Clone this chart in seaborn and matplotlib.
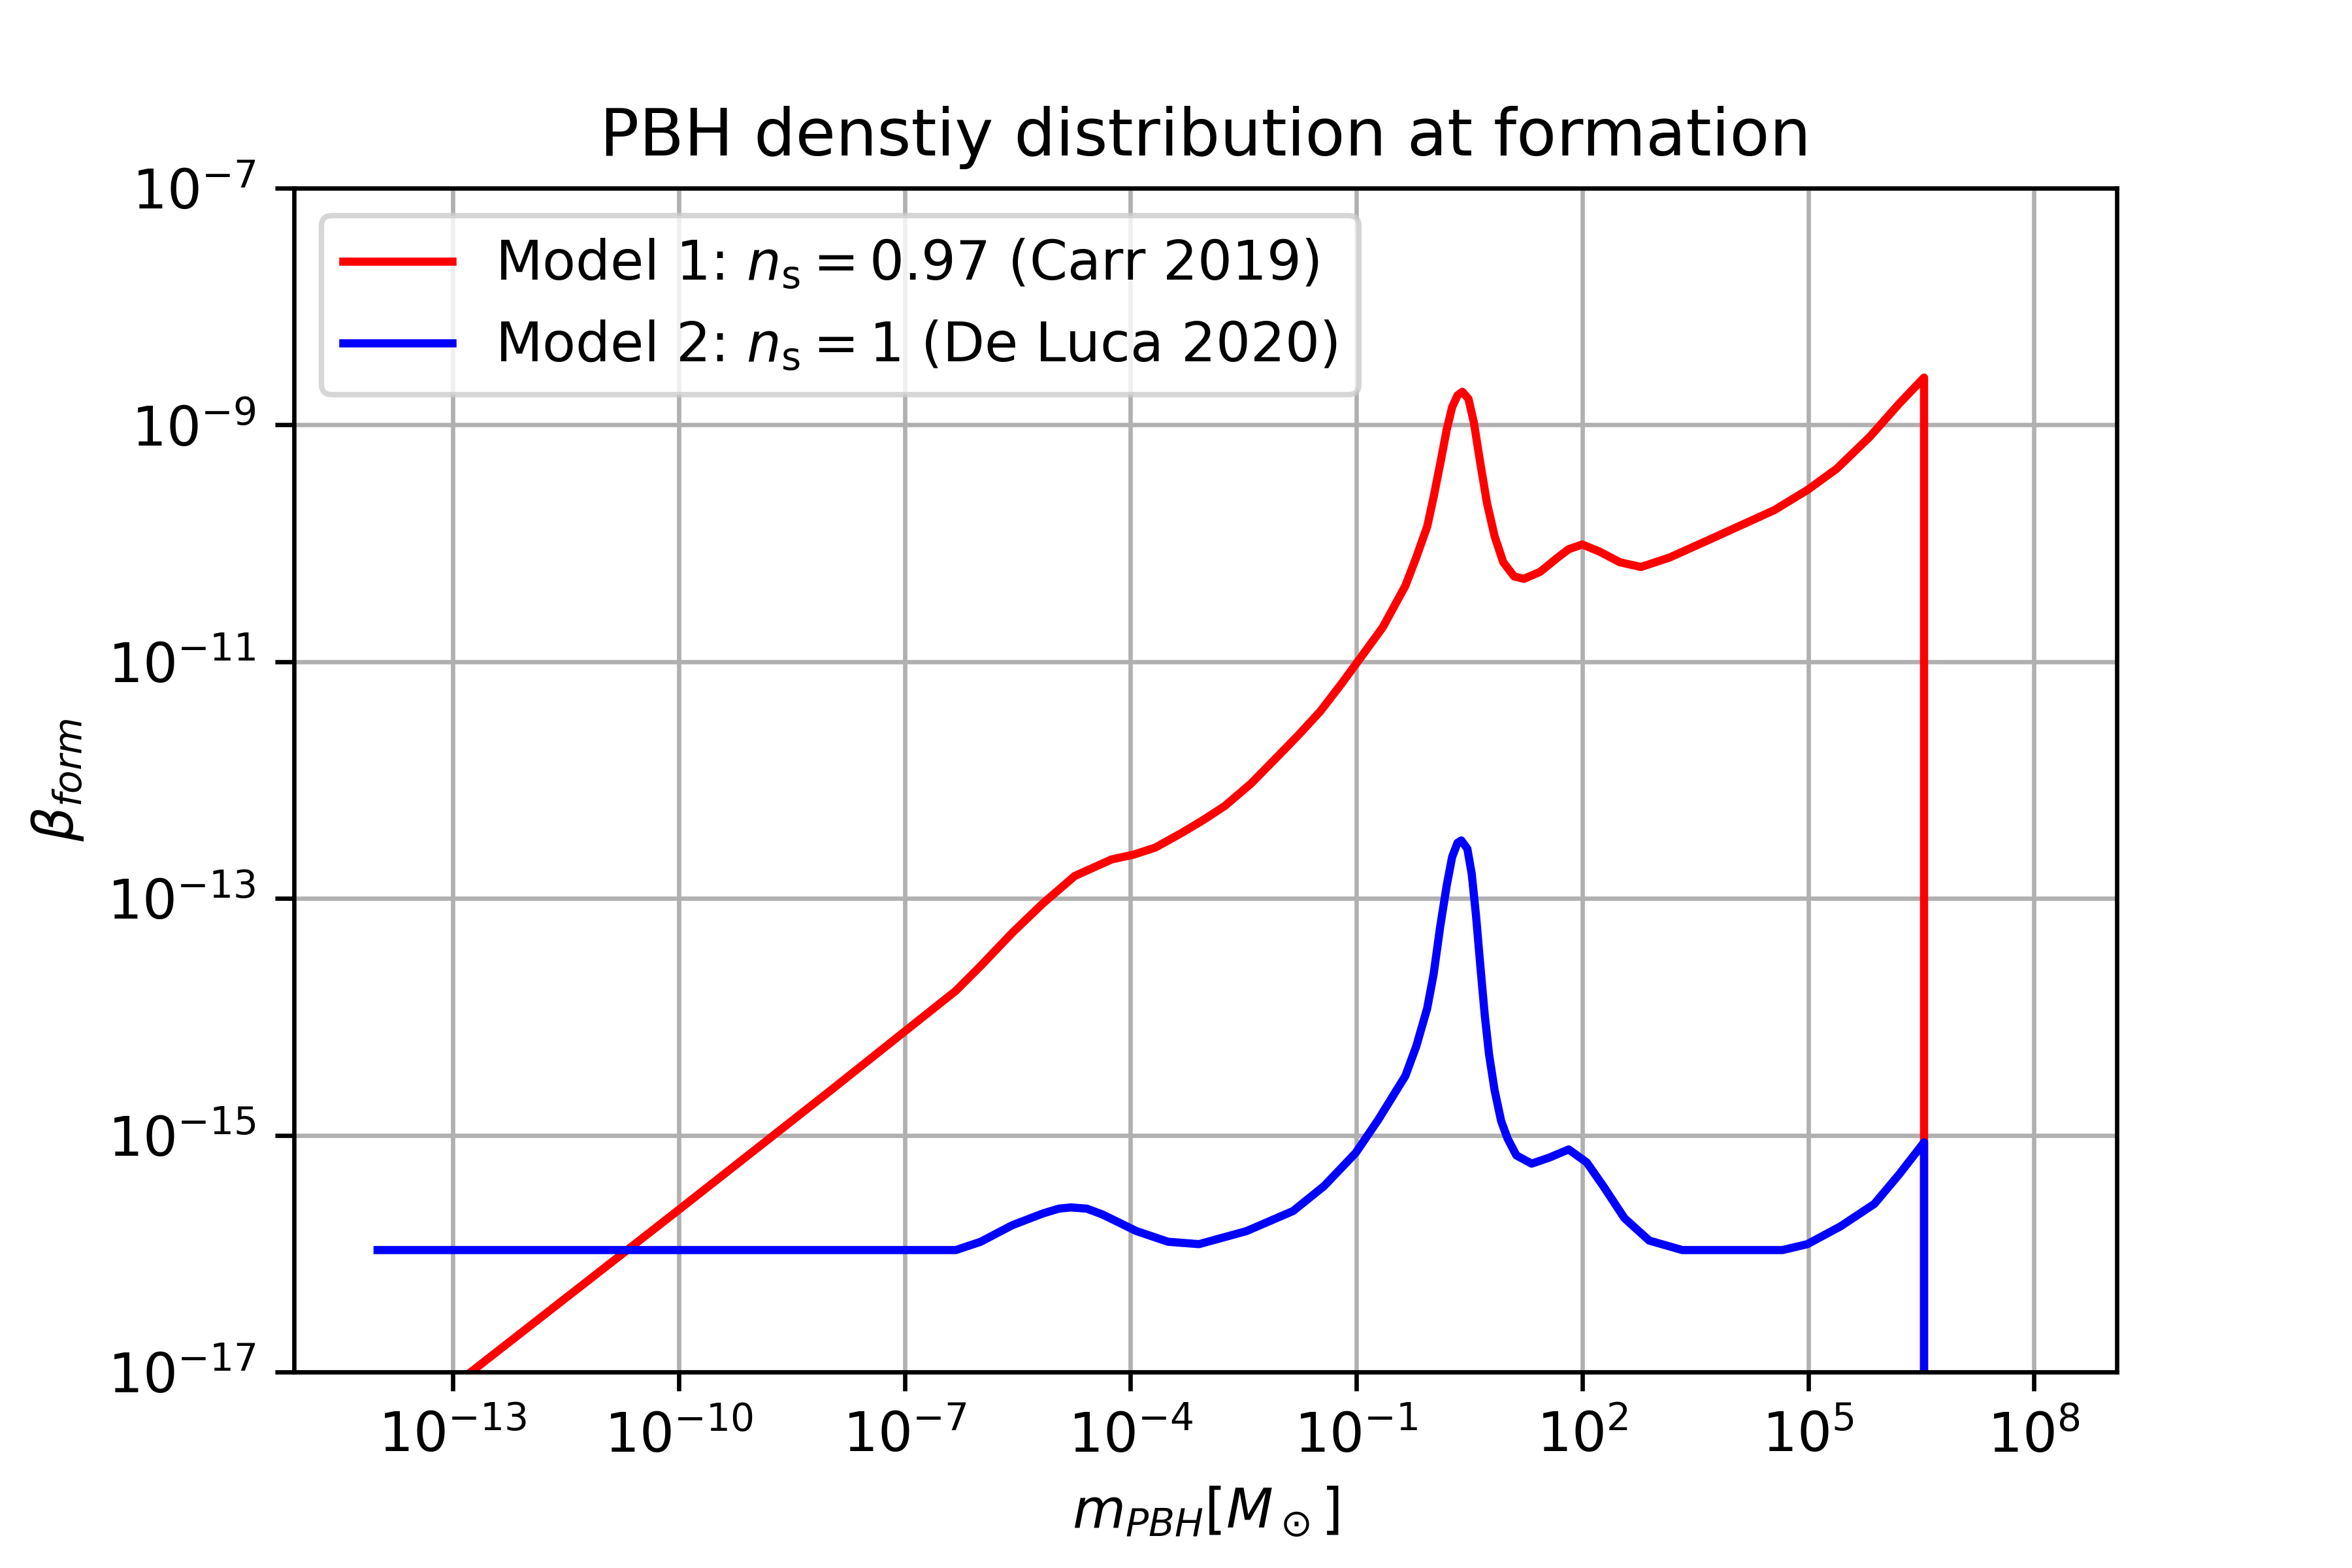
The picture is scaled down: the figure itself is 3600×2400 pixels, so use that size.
import numpy as np
import pandas as pd
import matplotlib
matplotlib.use("Agg")
import matplotlib.pyplot as plt
import seaborn as sns
from matplotlib.ticker import NullLocator

# ---- data (log10 of mass in solar masses, log10 of beta) ----
red_logm = [-14.0, -12.76, -10.0, -8.0, -6.32, -5.99, -5.57, -5.16, -4.74, -4.25,
            -3.96, -3.67, -3.33, -3.04, -2.75, -2.40, -2.06, -1.77, -1.48, -1.19,
            -0.96, -0.65, -0.35, -0.205, -0.06, 0.026, 0.113, 0.20, 0.272, 0.344,
            0.408, 0.489, 0.561, 0.648, 0.735, 0.836, 0.951, 1.096, 1.226, 1.443,
            1.674, 1.82, 2.00, 2.23, 2.50, 2.78, 3.16, 3.72, 4.55, 4.99,
            5.38, 5.82, 6.21, 6.54, 6.54, 8.0]
red_logb = [-17.62, -17.0, -15.63, -14.63, -13.78, -13.57, -13.29, -13.04, -12.81, -12.67,
            -12.63, -12.57, -12.45, -12.34, -12.22, -12.03, -11.81, -11.62, -11.42, -11.18,
            -10.98, -10.71, -10.36, -10.12, -9.86, -9.61, -9.33, -9.04, -8.85, -8.75,
            -8.72, -8.78, -8.98, -9.33, -9.66, -9.94, -10.16, -10.28, -10.30, -10.24,
            -10.12, -10.05, -10.01, -10.07, -10.16, -10.20, -10.12, -9.96, -9.72, -9.55,
            -9.37, -9.10, -8.82, -8.60, -30.0, -30.0]

blue_logm = [-14.0, -6.32, -5.99, -5.57, -5.16, -4.95, -4.79, -4.58, -4.37, -3.92,
             -3.50, -3.09, -2.46, -1.84, -1.43, -1.01, -0.71, -0.35, -0.205, -0.06,
             0.026, 0.113, 0.20, 0.272, 0.344, 0.394, 0.474, 0.532, 0.59, 0.648,
             0.706, 0.763, 0.836, 0.923, 1.01, 1.125, 1.327, 1.559, 1.82, 2.06,
             2.28, 2.56, 2.89, 3.33, 4.66, 4.99, 5.43, 5.88, 6.21, 6.54,
             6.54, 8.0]
blue_logb = [-15.97, -15.97, -15.90, -15.76, -15.66, -15.62, -15.61, -15.62, -15.67, -15.81,
             -15.90, -15.92, -15.81, -15.64, -15.43, -15.15, -14.87, -14.50, -14.25, -13.93,
             -13.64, -13.24, -12.89, -12.65, -12.53, -12.51, -12.58, -12.79, -13.15, -13.58,
             -13.99, -14.32, -14.62, -14.88, -15.03, -15.17, -15.24, -15.19, -15.12, -15.23,
             -15.43, -15.70, -15.89, -15.97, -15.97, -15.92, -15.77, -15.58, -15.33, -15.06,
             -30.0, -30.0]

labels = [r'Model 1: $n_\mathrm{s} = 0.97$ (Carr 2019)',
          r'Model 2: $n_\mathrm{s} = 1$ (De Luca 2020)']
colors = ['red', 'blue']
x_tick_exps = list(range(-13, 9, 3))
y_tick_exps = list(range(-17, -6, 2))

red_df = pd.DataFrame({'m': 10.0 ** np.array(red_logm), 'beta': 10.0 ** np.array(red_logb)})
blue_df = pd.DataFrame({'m': 10.0 ** np.array(blue_logm), 'beta': 10.0 ** np.array(blue_logb)})

fig, ax = plt.subplots(figsize=(6, 4), dpi=600)
fig.subplots_adjust(left=0.125, right=0.9, top=0.88, bottom=0.125)

ax.set_xscale('log')
ax.set_yscale('log')
sns.lineplot(data=red_df, x='m', y='beta', color=colors[0], label=labels[0],
             estimator=None, sort=False, linewidth=1.5, ax=ax)
sns.lineplot(data=blue_df, x='m', y='beta', color=colors[1], label=labels[1],
             estimator=None, sort=False, linewidth=1.5, ax=ax)

ax.set_xticks([10.0 ** e for e in x_tick_exps])
ax.set_yticks([10.0 ** e for e in y_tick_exps])
ax.xaxis.set_minor_locator(NullLocator())
ax.yaxis.set_minor_locator(NullLocator())
ax.set_xlim(10 ** -15.11, 10 ** 9.10)
ax.set_ylim(1e-17, 1e-7)

ax.grid(True, color='#b0b0b0', linewidth=0.8)
ax.set_axisbelow(True)
ax.set_title('PBH denstiy distribution at formation', fontsize=12)
ax.set_xlabel(r'$m_{PBH} [M_\odot]$')
ax.set_ylabel(r'$\beta_{form}$')
ax.legend(loc='upper left')

fig.savefig('out.png', dpi=600)
